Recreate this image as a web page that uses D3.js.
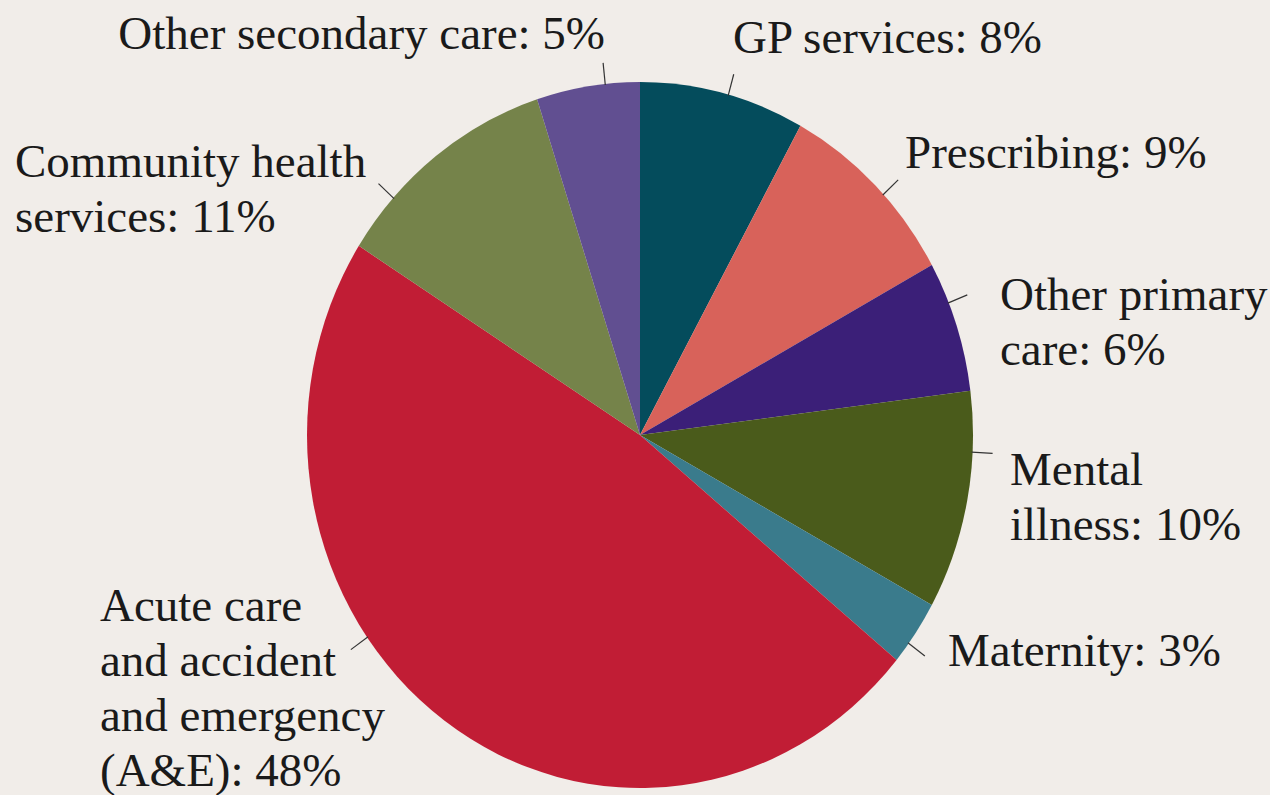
<!DOCTYPE html>
<html>
<head>
<meta charset="utf-8">
<script src="https://cdn.jsdelivr.net/npm/d3@7"></script>
<style>
  html, body { margin: 0; padding: 0; background: #f1ede9; }
  svg { display: block; }
</style>
</head>
<body>
<div id="root"></div>
<script>
// data: clockwise from 12 o'clock
var categories = [
  "GP services",
  "Prescribing",
  "Other primary care",
  "Mental illness",
  "Maternity",
  "Acute care and accident and emergency (A&E)",
  "Community health services",
  "Other secondary care"
];
var shares = [8, 9, 6, 10, 3, 48, 11, 5];
var colors = ["#044c5c", "#d8625a", "#3b1f78", "#4a5b1b", "#3a7b8c", "#c11d35", "#75834a", "#614f91"];
var labelLines = [
  ["GP services: 8%"],
  ["Prescribing: 9%"],
  ["Other primary", "care: 6%"],
  ["Mental", "illness: 10%"],
  ["Maternity: 3%"],
  ["Acute care", "and accident", "and emergency", "(A&E): 48%"],
  ["Community health", "services: 11%"],
  ["Other secondary care: 5%"]
];

var width = 1270;
var height = 795;
var cx = 640, cy = 435;
var radius = 333;
var stretch = 1.06;

// where each label block sits (first baseline), and text anchor
var labelPos = [
  { x: 733, y: 53, anchor: "start" },
  { x: 905, y: 168, anchor: "start" },
  { x: 1000, y: 310, anchor: "start" },
  { x: 1010, y: 485, anchor: "start" },
  { x: 948, y: 666, anchor: "start" },
  { x: 100, y: 621, anchor: "start" },
  { x: 15, y: 177, anchor: "start" },
  { x: 605, y: 49, anchor: "end" }
];
// leader tick angle offsets (degrees from slice mid) to match the picture
var leaderShift = [1, 2, -4, -8, 2, 19, -10, 3];

var svg = d3
  .select("#root")
  .append("svg")
  .attr("width", width)
  .attr("height", height);

svg.append("rect").attr("width", width).attr("height", height).attr("fill", "#f1ede9");

var pie = d3.pie().sort(null).value((d) => d);
var arcs = pie(shares);
var arc = d3.arc().innerRadius(0).outerRadius(radius);

var g = svg
  .append("g")
  .attr("transform", "translate(" + cx + "," + cy + ") scale(1," + stretch + ")");

g.selectAll("path")
  .data(arcs)
  .enter()
  .append("path")
  .attr("d", arc)
  .attr("fill", (d, i) => colors[i]);

// leader ticks
g.selectAll("line")
  .data(arcs)
  .enter()
  .append("line")
  .each(function (d, i) {
    var a = (d.startAngle + d.endAngle) / 2 + (leaderShift[i] * Math.PI) / 180;
    var r0 = radius - 1, r1 = radius + 20;
    d3.select(this)
      .attr("x1", r0 * Math.sin(a))
      .attr("y1", -r0 * Math.cos(a))
      .attr("x2", r1 * Math.sin(a))
      .attr("y2", -r1 * Math.cos(a));
  })
  .attr("stroke", "#333")
  .attr("stroke-width", 1.2)
  .attr("vector-effect", "non-scaling-stroke");

// labels, one text per line
var rows = [];
labelLines.forEach(function (lines, i) {
  lines.forEach(function (line, j) {
    rows.push({ i: i, j: j, line: line });
  });
});

svg
  .selectAll("text")
  .data(rows)
  .enter()
  .append("text")
  .attr("x", (d) => labelPos[d.i].x)
  .attr("y", (d) => labelPos[d.i].y + d.j * 55)
  .attr("text-anchor", (d) => labelPos[d.i].anchor)
  .attr("font-size", 47)
  .style("font-family", "Liberation Serif")
  .style("fill", "#1a1a1a")
  .text((d) => d.line);
</script>
</body>
</html>
